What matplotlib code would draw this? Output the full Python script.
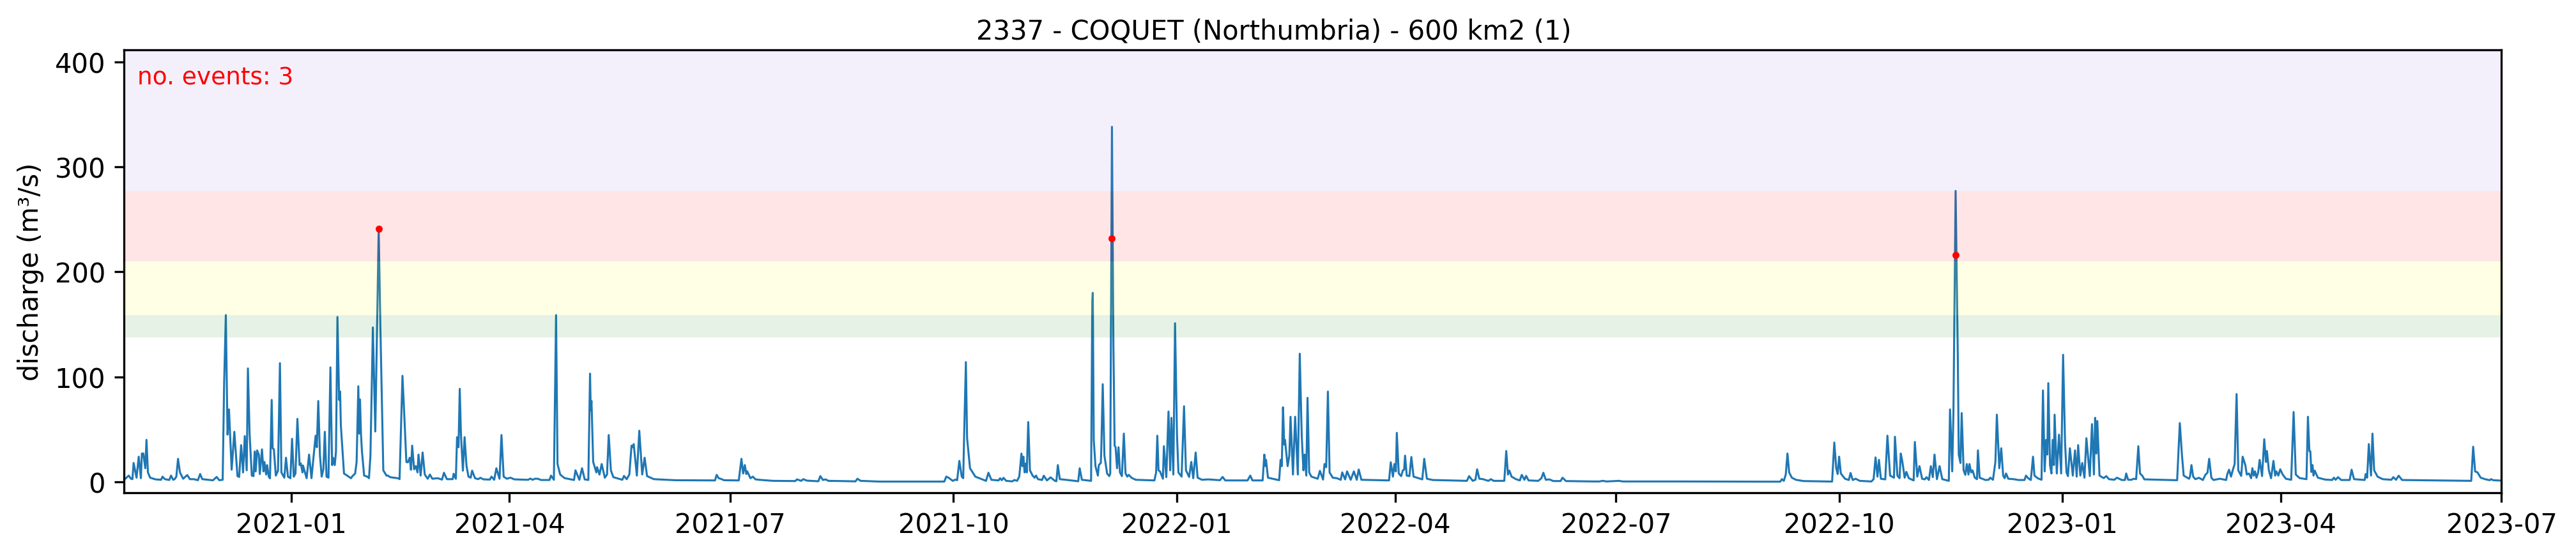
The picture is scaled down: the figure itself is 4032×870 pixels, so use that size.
import numpy as np
import pandas as pd
import matplotlib
matplotlib.use("Agg")
import matplotlib.pyplot as plt
import matplotlib.dates as mdates

# flow: (days since 2021-01-01, discharge in m3/s)
flow_2020_21 = [
    (-68.8, 2.0), (-66.9, 6), (-66.0, 3), (-65.4, 2.6), (-64.9, 18), (-63.7, 4), (-62.8, 24), (-61.9, 3.5),
    (-61.5, 27), (-60.9, 27), (-60.1, 13), (-59.6, 40), (-59.0, 9), (-58.1, 4), (-55.9, 2.4), (-53.6, 2),
    (-53.0, 5), (-52.0, 2.6), (-50.2, 1.8), (-49.5, 6), (-48.6, 2), (-48.0, 2.6), (-47.3, 5), (-46.6, 22),
    (-45.8, 9), (-44.5, 3), (-42.8, 6.5), (-41.7, 2.6), (-40.1, 2.6), (-38.4, 1.6), (-37.5, 7.5), (-36.6, 2.6),
    (-32.2, 1.5), (-30.7, 4.7), (-29.6, 1.6), (-28.2, 2), (-27.6, 94), (-26.9, 158.8), (-26.2, 45), (-25.6, 69),
    (-24.5, 11.6), (-23.4, 47.7), (-22.1, 5.5), (-21.4, 4.7), (-20.6, 35), (-19.8, 9), (-19.1, 43.6), (-18.3, 11),
    (-17.8, 108), (-17.1, 45.6), (-16.2, 6), (-15.5, 5.5), (-15.0, 29), (-14.6, 10), (-14.0, 30), (-13.3, 26),
    (-12.9, 7.5), (-12.0, 31), (-11.4, 10), (-11.0, 19), (-10.3, 7), (-9.9, 16), (-9.2, 5), (-8.7, 3.4),
    (-8.0, 78), (-7.6, 32), (-7.1, 31), (-6.3, 6), (-5.4, 10.7), (-4.6, 113), (-4.0, 9), (-2.8, 4),
    (-2.1, 23), (-1.3, 5), (-0.3, 3.5), (0.4, 41), (1.1, 5), (1.8, 8), (2.6, 60), (3.5, 16),
    (4.0, 17.6), (4.7, 9), (4.9, 15.6), (6.4, 3.5), (7.4, 26), (8.4, 3.5), (10.1, 44), (10.6, 33),
    (11.2, 77), (11.9, 25), (12.6, 5), (13.3, 12), (13.9, 47.7), (14.6, 5), (15.4, 4), (16.2, 109),
    (16.9, 16), (17.3, 23), (18.0, 16), (18.5, 29), (19.1, 157), (19.8, 78), (20.2, 86), (20.5, 54),
    (21.8, 8), (23.1, 6), (24.7, 3.5), (25.3, 5.5), (26.4, 8), (27.0, 19), (27.7, 91), (28.1, 46),
    (28.4, 78.5), (28.8, 46), (29.2, 29), (30.1, 6), (31.4, 5), (32.1, 3.5), (32.7, 25), (33.7, 147),
    (34.7, 48), (36.1, 240), (36.8, 147), (38.0, 11), (39.3, 6), (39.9, 6), (40.8, 4.5), (44.2, 3.4),
    (44.7, 2.6), (45.9, 101), (46.6, 66), (47.5, 19), (48.1, 18.6), (48.9, 23), (49.4, 11.5), (49.9, 34.5),
    (50.7, 12), (51.4, 15), (52.1, 9), (52.5, 26), (53.4, 6), (54.2, 28), (55.1, 7), (56.3, 3),
    (57.2, 7), (58.2, 3), (60.4, 3.5), (62.2, 2.2), (63.0, 8.7), (64.2, 2.6), (66.6, 2.6), (67.0, 7.7),
    (67.9, 3), (68.4, 42.6), (69.0, 33), (69.5, 88.6), (70.0, 45.6), (70.8, 10.7), (71.5, 42.6), (72.3, 15),
    (73.1, 5), (74.0, 4), (74.6, 10.7), (75.8, 3.5), (77.1, 2.6), (78.0, 3.9), (79.3, 2.4), (81.9, 2.2),
    (82.6, 5), (83.7, 2), (84.6, 13), (85.9, 3), (86.7, 44.6), (87.6, 5), (88.9, 3), (90.4, 4),
    (92.0, 2.4), (97.7, 2), (98.6, 3.2), (99.5, 2), (100.5, 3), (101.7, 3), (103.0, 1.8), (106.5, 1.8),
    (107.1, 6), (108.3, 2), (109.2, 158.8), (109.8, 17), (110.9, 7), (112.7, 3.6), (116.6, 1.8), (117.2, 11),
    (118.8, 2), (119.9, 13), (121.0, 2.4), (122.5, 1.8), (123.2, 103), (123.5, 68), (123.8, 77), (124.5, 19),
    (125.8, 9), (126.1, 14), (127.1, 7), (128.0, 17), (129.3, 4), (130.2, 7), (130.9, 44.6), (131.8, 11),
    (132.8, 4.5), (136.5, 2), (137.2, 5.7), (138.3, 2.6), (139.4, 7), (140.3, 34.5), (140.7, 33), (141.2, 36),
    (142.5, 6), (143.5, 48.7), (144.7, 7), (145.7, 23), (146.7, 5.5), (149.5, 2.6), (158.3, 1.6),
]
flow_2021_22 = [
    (174.7, 1.4), (175.4, 6.7), (176.2, 3.5), (177.0, 3), (178.4, 1.6), (184.5, 1.4), (185.6, 22), (186.3, 8),
    (187.0, 16), (187.6, 7.5), (188.0, 10), (189.3, 3.5), (190.3, 5), (191.4, 2.4), (192.9, 2), (198.6, 1),
    (207.8, 0.8), (208.5, 2.4), (210.2, 1), (211.1, 2.6), (212.6, 1.2), (217.3, 0.6), (218.1, 5.5), (219.2, 1.8),
    (220.3, 2.4), (221.4, 1), (226.7, 0.8), (232.6, 0.5), (233.4, 3), (234.7, 1), (242.5, 0.3), (269.2, 0.3),
    (270.0, 5), (271.0, 3.9), (272.7, 1), (273.8, 2.2), (274.5, 1.6), (275.4, 20), (276.4, 5), (277.0, 3.5),
    (277.4, 46), (278.1, 114), (278.6, 41.6), (279.8, 13), (282.0, 5), (286.4, 1), (287.4, 8.7), (288.6, 2),
    (291.6, 1.4), (292.2, 3.5), (292.9, 1.6), (293.6, 3.9), (294.7, 1), (297.2, 0.5), (298.1, 1.8), (299.2, 1),
    (300.1, 5), (301.0, 27), (301.4, 15), (301.8, 24), (302.3, 9), (302.8, 17.6), (303.2, 9), (303.8, 57),
    (304.5, 11), (305.6, 6), (306.4, 4), (307.0, 6), (307.8, 2.6), (309.5, 1.8), (310.2, 5.9), (311.5, 1.4),
    (313.0, 4.3), (314.8, 1), (315.4, 0.6), (316.0, 16), (316.8, 2.6), (319.2, 2), (324.4, 0.6), (325.0, 13),
    (325.9, 2), (329.7, 1), (330.2, 172), (330.4, 180), (330.8, 40), (331.5, 15), (332.5, 6), (332.9, 16),
    (333.7, 18), (333.9, 30), (334.5, 93), (335.2, 25), (336.3, 8), (337.2, 5.5), (337.6, 8), (338.3, 338),
    (338.9, 130), (339.4, 34.5), (339.8, 33), (340.4, 13), (341.0, 33), (341.6, 9), (342.4, 5.5), (343.2, 46),
    (343.9, 8), (344.6, 5), (345.2, 6.7), (346.4, 3.9), (348.1, 2), (355.8, 1.4), (356.5, 9), (357.0, 44),
    (357.5, 11), (358.1, 10), (359.3, 3), (359.7, 34), (360.7, 4.5), (361.6, 67), (362.3, 11), (362.8, 61),
    (363.6, 7), (364.3, 151), (365.1, 45), (365.7, 9), (367.0, 5), (368.0, 72), (368.8, 11), (370.1, 4.7),
    (371.0, 19), (371.8, 3.5), (372.8, 28), (373.6, 4), (375.4, 2), (378.0, 2.4), (382.8, 1.6), (383.9, 4.7),
    (385.0, 1.4), (394.2, 1.4), (395.3, 6), (396.2, 1.4), (400.4, 1.4), (401.1, 26), (401.6, 15), (401.8, 21),
    (402.6, 4), (407.2, 1.6), (407.8, 21), (408.3, 15), (408.8, 71), (409.3, 35.5), (409.6, 40), (410.7, 15),
    (411.4, 25), (411.9, 62), (412.9, 7), (413.8, 62), (414.9, 7), (415.7, 122), (416.5, 45), (417.2, 11),
    (417.7, 26), (418.4, 6), (418.9, 80), (419.6, 9), (420.5, 5), (423.1, 3), (424.0, 10.5), (425.3, 2.2),
    (425.9, 17), (426.6, 14), (427.3, 86), (428.0, 9), (429.3, 4), (431.0, 3.5), (432.6, 2), (433.2, 9),
    (434.4, 2.4), (435.2, 10), (436.7, 2), (438.0, 10), (439.2, 2), (440.0, 11.8), (441.1, 2), (452.5, 1.4),
    (453.2, 18.7), (454.1, 5), (454.7, 17), (455.3, 10), (455.7, 46.7), (456.5, 8), (457.5, 5.5), (458.2, 11),
    (458.7, 11.6), (459.1, 25), (459.8, 6), (460.9, 5.5), (461.7, 23.7), (462.6, 5), (466.2, 2.4), (467.0, 22),
    (468.1, 3), (470.5, 1.8), (484.6, 1), (485.5, 5.5), (487.0, 1), (488.1, 2), (488.8, 12), (489.7, 3),
    (491.2, 2.6), (493.4, 1), (494.5, 2.6), (495.6, 1), (500.0, 1), (500.8, 29.4), (501.5, 7), (502.1, 10.7),
    (503.0, 5), (504.8, 2.6), (506.4, 1.4), (507.2, 6.7), (508.3, 2), (509.0, 5.7), (510.0, 1.4), (514.0, 1),
    (515.3, 3.5), (516.1, 8.7), (517.1, 2), (518.6, 2.4), (520.2, 0.8), (523.2, 0.8), (524.0, 4), (525.4, 0.8),
    (536.8, 0.4),
]
flow_2022_23 = [
    (539.2, 0.4), (540.5, 1), (542.2, 0.4), (547.2, 1), (548.8, 0.4), (562.0, 0.4), (572.0, 0.4), (613.7, 0.2),
    (614.4, 2.6), (615.2, 1), (616.0, 7), (616.7, 27), (617.4, 9), (618.5, 4), (620.2, 2), (623.3, 0.8),
    (635.1, 0.3), (636.0, 37.5), (636.8, 13), (637.4, 7.5), (638.0, 24), (638.7, 8), (640.4, 3), (642.0, 1.8),
    (642.7, 8.5), (643.6, 1.8), (644.8, 3), (646.5, 1), (651.3, 0.4), (652.2, 2.6), (653.0, 23.3), (653.8, 5),
    (654.4, 21), (655.2, 3), (657.0, 2.4), (657.9, 44), (659.0, 6), (660.6, 4), (661.0, 43), (662.0, 6),
    (662.9, 3.5), (663.4, 27), (664.0, 20), (665.0, 4), (665.7, 9.5), (666.7, 3.5), (668.7, 1.4), (669.2, 38),
    (670.2, 5), (671.1, 15), (672.2, 3), (673.3, 2.4), (674.0, 4.5), (675.0, 1.8), (675.8, 15), (676.6, 4.5),
    (677.3, 26), (678.3, 2.6), (679.4, 15), (680.5, 2.6), (683.2, 1), (683.7, 69), (684.6, 10), (685.1, 66),
    (686.0, 277), (686.9, 120), (687.3, 26), (688.0, 18), (688.5, 65.5), (689.3, 11), (690.0, 6.7), (690.6, 17),
    (691.3, 7), (691.7, 17), (692.4, 9), (693.0, 11), (693.9, 4), (694.8, 2.6), (695.2, 30), (695.9, 4),
    (698.3, 1.8), (699.6, 2), (700.3, 4), (701.4, 2), (702.4, 19), (703.0, 64), (704.0, 13), (704.8, 32),
    (705.6, 6), (706.2, 3.5), (706.8, 8), (707.7, 3), (709.9, 2.6), (711.9, 1.8), (714.4, 1.8), (715.0, 6),
    (715.9, 3.5), (717.0, 1.8), (717.9, 24), (718.5, 6), (719.8, 3.5), (721.4, 2), (722.0, 87), (722.7, 10),
    (723.3, 40), (723.8, 26), (724.2, 94), (724.9, 16), (725.5, 8), (726.0, 40), (726.5, 16), (726.8, 64),
    (727.7, 8), (728.6, 45), (729.5, 8), (730.3, 121), (731.1, 37.5), (731.7, 9), (732.3, 5.5), (733.1, 32),
    (734.3, 6), (735.2, 30), (735.9, 5), (736.5, 35), (737.4, 6), (738.2, 18), (739.1, 4), (739.9, 41.6),
    (741.3, 5.5), (742.2, 55), (743.0, 7), (743.5, 61), (744.0, 27), (744.4, 58), (745.3, 6), (747.0, 3.6),
    (748.1, 5.5), (749.2, 2.6), (751.4, 2), (752.5, 4), (754.5, 1.8), (755.8, 1.8), (756.3, 8), (757.1, 2),
    (758.4, 2), (759.5, 3), (760.4, 2.6), (761.3, 34), (762.0, 8), (762.9, 6), (763.8, 2.4), (777.3, 1.6),
    (778.4, 56), (778.8, 42.6), (779.3, 25), (780.0, 6), (782.2, 3), (782.6, 5), (783.2, 16), (783.9, 5),
    (784.8, 2.6), (786.3, 3.9), (787.9, 1.8), (789.0, 7), (789.8, 8.7), (790.5, 22), (791.4, 4), (792.3, 1.8),
    (794.9, 3), (797.5, 1.8), (798.0, 7.5), (798.7, 11.6), (799.5, 5), (800.2, 11), (801.0, 17), (801.8, 83.6),
    (802.5, 11), (803.7, 5.7), (804.3, 24), (805.4, 16), (806.0, 7), (806.9, 8), (807.8, 3.5), (808.3, 13),
    (808.9, 6), (809.4, 10), (810.0, 4), (810.7, 9), (811.3, 21), (812.3, 5.5), (813.2, 40.6), (813.9, 19),
    (814.3, 29.4), (815.1, 11), (816.0, 3.5), (817.0, 20), (817.7, 6), (818.2, 10), (819.0, 6), (819.8, 12),
    (820.8, 7), (822.1, 3), (824.3, 2), (825.3, 66.5), (826.2, 7), (827.8, 3.6), (830.6, 2.6), (831.2, 62),
    (831.8, 29.4), (832.2, 29), (832.6, 9.5), (833.1, 16), (833.5, 6), (834.0, 10.7), (835.3, 4), (838.3, 2.2),
    (841.2, 1.8), (841.9, 4), (842.6, 2), (843.6, 4.5), (844.9, 1.8), (848.4, 1.8), (849.2, 11.6), (850.2, 2.6),
    (854.6, 1.8), (855.0, 7.5), (855.6, 4), (856.3, 36), (857.2, 6), (857.8, 46), (858.5, 11), (859.9, 5),
    (862.0, 2.6), (865.6, 2), (866.4, 4.5), (867.5, 2), (868.6, 5.9), (870.0, 1.8), (898.5, 1), (899.3, 33.5),
    (900.1, 10), (901.1, 9), (902.4, 4), (904.2, 2.6), (906.1, 1.6), (906.7, 2.6), (907.6, 1.6), (911.0, 1.2),
]

# events above threshold (days since 2021-01-01) and the discharge marked
event_days = [36.1, 338.3, 686.0]
event_flow = [241, 231.6, 216]

# return period thresholds, m3/s
thresholds = [137.7, 158.6, 209.8, 277]
band_colors = ["green", "yellow", "red", "mediumpurple"]

ylim = (-10.3, 411)
start = pd.Timestamp("2021-01-01")


def to_dates(days):
    return start + pd.to_timedelta(np.asarray(days), unit="D")


days, flow = zip(*(flow_2020_21 + flow_2021_22 + flow_2022_23))
dates = to_dates(days)

fig, ax = plt.subplots(figsize=(13.44, 2.9033), dpi=300)
fig.subplots_adjust(left=0.0482, right=0.9711, bottom=0.1137, top=0.9088)

ax.plot(dates, flow, color="C0", lw=0.75)

# bands sit on top of the line, it looks tinted through them
edges = thresholds + [ylim[1]]
for i, c in enumerate(band_colors):
    ax.axhspan(edges[i], edges[i + 1], color=c, alpha=0.1, lw=0, zorder=3)

ax.scatter(to_dates(event_days), event_flow, color="red", s=7, lw=0, zorder=4)

ax.set_xlim(dates[0], pd.Timestamp("2023-07-01"))
ax.set_ylim(*ylim)
ax.xaxis.set_major_locator(mdates.MonthLocator(bymonth=[1, 4, 7, 10]))
ax.xaxis.set_major_formatter(mdates.DateFormatter("%Y-%m"))
ax.set_ylabel("discharge (m³/s)", fontsize=10)
# the title sits a little left of the axes centre in the original
ax.set_title("2337 - COQUET (Northumbria) - 600 km2 (1)", fontsize=10, pad=4.4, x=0.4837)
ax.text(0.0055, 0.924, "no. events: 3", color="red", fontsize=9, transform=ax.transAxes)

plt.savefig("out.png", dpi=300)
